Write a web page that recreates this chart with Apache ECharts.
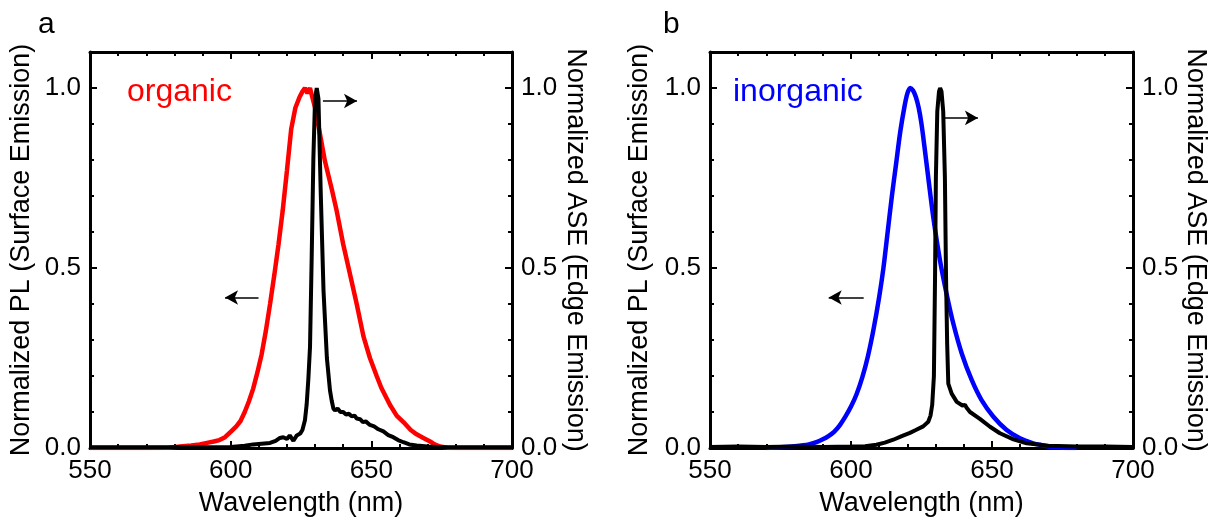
<!DOCTYPE html>
<html>
<head>
<meta charset="utf-8">
<script src="https://cdn.jsdelivr.net/npm/echarts@6/dist/echarts.min.js"></script>
<style>
html,body{margin:0;padding:0;background:#fff;}
#chart{width:1211px;height:522px;}
</style>
</head>
<body>
<div id="chart"></div>
<script>
// ---------- data (wavelength nm, normalized intensity) ----------
const xTicks = [550, 600, 650, 700];
const yTicks = [0.0, 0.5, 1.0];

const organicPL = [
[550,0],[560,0],[570,0],[578,0.001],[582,0.004],[586,0.007],[589,0.01],[592,0.015],[594,0.018],[596,0.022],[598,0.03],[600,0.045],[602,0.06],[603.5,0.075],[605,0.1],[606.5,0.13],[608,0.165],[609.5,0.21],[611,0.26],[612.5,0.325],[614,0.4],[615.5,0.48],[617,0.565],[618.5,0.66],[620,0.77],[621.5,0.885],[623,0.945],[624.5,0.975],[625.5,0.99],[626.4,1.0],[627.3,0.985],[628.2,1.0],[629,0.975],[630,0.945],[631.8,0.87],[633.5,0.797],[635.9,0.72],[637.7,0.658],[640,0.566],[642.4,0.483],[644.8,0.40],[647.2,0.31],[649.5,0.25],[651.9,0.2],[653.5,0.168],[656.6,0.12],[659,0.09],[661.4,0.072],[664,0.05],[666.1,0.038],[668.5,0.028],[670.9,0.018],[672.5,0.01],[674.4,0.004],[677,0.001],[680,0],[690,0],[700,0]
];

const organicASE = [
[550,0.002],[570,0.002],[590,0.002],[600,0.003],[605,0.006],[608,0.01],[611,0.012],[614,0.014],[616,0.02],[617.5,0.028],[618.7,0.03],[620,0.025],[621,0.035],[622.3,0.02],[623.5,0.035],[624.7,0.04],[625.5,0.05],[626.4,0.077],[627,0.12],[627.6,0.19],[628.2,0.28],[628.8,0.53],[629.4,0.806],[630,0.972],[630.6,1.0],[631.2,0.97],[632,0.714],[633,0.437],[634.2,0.25],[635.3,0.16],[635.9,0.132],[636.5,0.11],[637.1,0.104],[638,0.11],[639,0.1],[640,0.1],[641,0.093],[642,0.095],[643,0.088],[644,0.09],[644.8,0.082],[646,0.08],[647,0.072],[648,0.074],[649.5,0.064],[651,0.06],[652.5,0.052],[654.3,0.046],[656,0.036],[657.8,0.03],[659.5,0.022],[661.4,0.016],[663.5,0.01],[666.1,0.007],[670,0.004],[675,0.002],[680,0.002],[690,0.002],[700,0.002]
];

const inorganicPL = [
[570,0],[575,0.002],[580,0.005],[585,0.01],[588,0.017],[590,0.024],[592,0.033],[594,0.045],[596,0.063],[598,0.087],[600,0.115],[602,0.15],[604,0.196],[606,0.255],[608,0.33],[610,0.42],[611.5,0.5],[613,0.6],[614.5,0.7],[616,0.79],[617.5,0.88],[619,0.95],[620,0.985],[621,1.0],[622,0.993],[623,0.975],[624,0.945],[625,0.9],[626,0.84],[627.4,0.751],[629.2,0.64],[631.6,0.519],[633.9,0.428],[636.3,0.345],[639.3,0.262],[642.8,0.189],[646.3,0.133],[650.5,0.087],[655.2,0.05],[659.9,0.027],[664.6,0.013],[667,0.009],[670,0.004],[675,0.001],[680,0]
];

const inorganicASE = [
[550,0.003],[560,0.004],[570,0.003],[580,0.004],[590,0.003],[600,0.004],[605,0.005],[609,0.009],[612,0.015],[615,0.023],[618,0.033],[620.9,0.042],[623,0.05],[625.6,0.06],[627.4,0.073],[628.2,0.09],[628.8,0.12],[629.4,0.2],[629.8,0.474],[630.1,0.75],[630.6,0.935],[631.2,0.99],[631.6,1.0],[632.1,0.99],[632.7,0.935],[633.3,0.75],[633.7,0.474],[634.1,0.29],[634.5,0.179],[635.7,0.151],[637.5,0.128],[639.5,0.118],[640.4,0.12],[641,0.112],[642.2,0.10],[645.7,0.081],[649.3,0.059],[652.8,0.041],[657.6,0.024],[662.3,0.013],[667,0.009],[670,0.006],[680,0.004],[690,0.004],[700,0.003]
];

// arrows: [tail, head] in data coordinates
const arrowA_left  = [[609.9,0.418],[598.0,0.418]];
const arrowA_right = [[632.8,0.964],[644.9,0.964]];
const arrowB_left  = [[604.5,0.418],[592.1,0.418]];
const arrowB_right = [[632.6,0.917],[645.0,0.917]];

const panelLetters = ['a','b'];
const sampleNames = ['organic','inorganic'];
const xTitle = 'Wavelength (nm)';
const yLeftTitle = 'Normalized PL (Surface Emission)';
const yRightTitle = 'Normalized ASE (Edge Emission)';

// ---------- chart ----------
const FONT = 'Liberation Sans, Arial, Helvetica, sans-serif';
const BLACK = '#000';
const grids = [
  {left: 90, top: 52, width: 422, height: 399},
  {left: 710, top: 52, width: 423, height: 399}
];
const nameStyle = {color: BLACK, fontSize: 27, fontFamily: FONT};

function xAxisCfg(gi, pos, labels) {
  const a = {
    type: 'value', gridIndex: gi, position: pos,
    min: xTicks[0], max: xTicks[xTicks.length-1], interval: 50,
    axisLine: {show: true, onZero: false, lineStyle: {color: BLACK, width: 3}},
    axisTick: {show: true, inside: true, length: 7, lineStyle: {color: BLACK, width: 2}},
    minorTick: {show: true, splitNumber: 5, length: 4, lineStyle: {color: BLACK, width: 2}},
    splitLine: {show: false},
    axisLabel: labels ? {show: true, color: BLACK, fontSize: 26, fontFamily: FONT, margin: 10} : {show: false}
  };
  if (labels) {
    a.name = xTitle; a.nameLocation = 'middle'; a.nameGap = 42; a.nameTextStyle = nameStyle;
  }
  return a;
}

function yMajor(gi, pos, gap) {
  const a = {
    type: 'value', gridIndex: gi, position: pos, min: 0, max: 1.1, interval: 0.5,
    axisLine: {show: true, onZero: false, lineStyle: {color: BLACK, width: 3}},
    axisTick: {show: true, inside: true, length: 7, lineStyle: {color: BLACK, width: 2}},
    axisLabel: {show: true, color: BLACK, fontSize: 26, fontFamily: FONT, margin: 9,
      showMaxLabel: false, formatter: v => v.toFixed(1)},
    splitLine: {show: false},
    name: pos === 'left' ? yLeftTitle : yRightTitle,
    nameLocation: 'middle', nameGap: gap, nameTextStyle: nameStyle
  };
  if (pos === 'right') a.nameRotate = -90;
  return a;
}
function yMinor(gi, pos) {
  return {
    type: 'value', gridIndex: gi, position: pos, min: 0, max: 1.1, interval: 0.1,
    axisLine: {show: false},
    axisTick: {show: true, inside: true, length: 4, lineStyle: {color: BLACK, width: 2}},
    axisLabel: {show: false}, splitLine: {show: false}
  };
}

function arrowMark(arrow) {
  return {
    symbol: ['none', 'arrow'], symbolSize: [11, 13],
    label: {show: false},
    lineStyle: {color: BLACK, width: 1.5, type: 'solid'},
    data: [[{coord: arrow[0]}, {coord: arrow[1]}]]
  };
}

function lineSeries(name, data, color, xi, yi, arrow, width, smooth) {
  return {
    name: name, type: 'line', xAxisIndex: xi, yAxisIndex: yi, data: data,
    showSymbol: false, smooth: smooth || false,
    lineStyle: {color: color, width: width},
    itemStyle: {color: color},
    markLine: arrowMark(arrow)
  };
}

function label(t, left, top, size, color) {
  return {text: t, left: left, top: top, padding: 0,
    textStyle: {fontSize: size, fontFamily: FONT, color: color, fontWeight: 'normal'}};
}

const option = {
  animation: false,
  title: [
    label(panelLetters[0], 38, 10, 30, BLACK),
    label(panelLetters[1], 663, 10, 30, BLACK),
    label(sampleNames[0], 127, 76, 32, '#ff0000'),
    label(sampleNames[1], 733, 76, 32, '#0000ff')
  ],
  grid: grids,
  xAxis: [xAxisCfg(0, 'bottom', true), xAxisCfg(0, 'top', false), xAxisCfg(1, 'bottom', true), xAxisCfg(1, 'top', false)],
  yAxis: [yMajor(0, 'left', 55), yMinor(0, 'left'), yMajor(0, 'right', 50), yMinor(0, 'right'),
          yMajor(1, 'left', 57), yMinor(1, 'left'), yMajor(1, 'right', 49), yMinor(1, 'right')],
  series: [
    lineSeries('organic PL', organicPL, '#ff0000', 0, 0, arrowA_left, 4.5, false),
    lineSeries('organic ASE', organicASE, BLACK, 0, 2, arrowA_right, 4, false),
    lineSeries('inorganic PL', inorganicPL, '#0000ff', 2, 4, arrowB_left, 4.5, 0.3),
    lineSeries('inorganic ASE', inorganicASE, BLACK, 2, 6, arrowB_right, 4, false)
  ]
};

const chart = echarts.init(document.getElementById('chart'));
chart.setOption(option);
</script>
</body>
</html>
